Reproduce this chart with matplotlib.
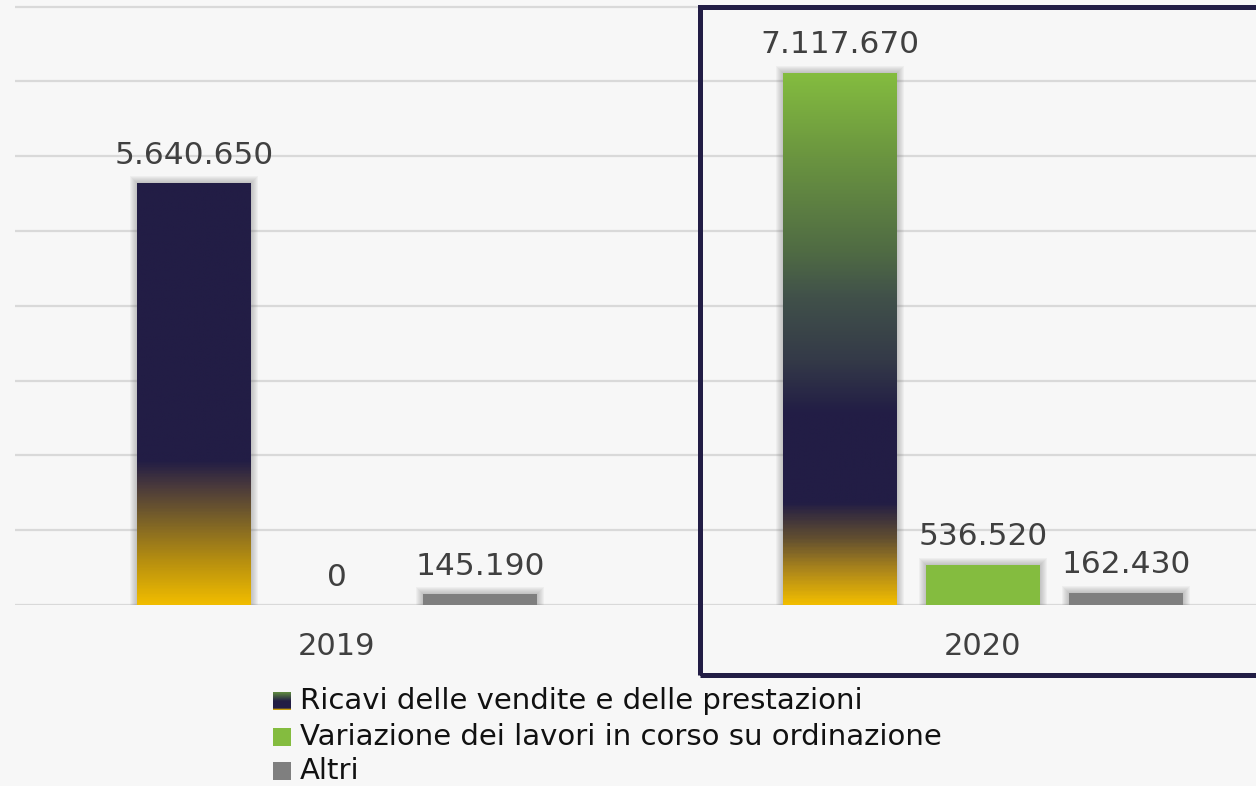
import matplotlib
matplotlib.use("Agg")
import matplotlib.pyplot as plt
import numpy as np
from matplotlib.colors import LinearSegmentedColormap
from matplotlib.patches import Rectangle

# ---------------- data ----------------
years = ["2019", "2020"]
series_names = ["Ricavi delle vendite e delle prestazioni",
                "Variazione dei lavori in corso su ordinazione",
                "Altri"]
ricavi = [5640650, 7117670]
variazione = [0, 536520]
altri = [145190, 162430]

# ---------------- style ----------------
BG = "#f7f7f7"
NAVY = "#221d45"
GREEN = "#84bc3f"
GRAY = "#7f7f7f"
YELLOW = "#f0bc00"
GRID = "#d9d9d9"
FONT = "DejaVu Sans"

grad_2019 = [(0.0, YELLOW), (0.10, "#b8900f"), (0.20, "#7a6128"), (0.28, "#4a3a3c"),
             (0.34, NAVY), (1.0, NAVY)]
grad_2020 = [(0.0, YELLOW), (0.06, "#b0891a"), (0.12, "#65512f"), (0.19, NAVY),
             (0.36, NAVY), (0.46, "#343a48"), (0.58, "#41514a"), (0.66, "#4f6a44"),
             (0.84, "#6a9440"), (1.0, GREEN)]
ricavi_grads = [grad_2019, grad_2020]

W, H = 1256, 786
fig = plt.figure(figsize=(W / 100, H / 100), dpi=100, facecolor=BG)
base_px = 605
px_per_unit = 74.8e-6  # pixels per value unit
ax = fig.add_axes([15 / W, (H - base_px) / H, 1 - 15 / W, base_px / H])
ax.set_facecolor(BG)
ymax = base_px / px_per_unit
group_px = [337, 983]
spacing_px = group_px[1] - group_px[0]

dx = 1 / spacing_px          # data units per pixel (x)
dy = 1 / px_per_unit         # data units per pixel (y)
bar_w = 114 * dx
offset = 143 * dx

ax.set_yticks(np.arange(0, 8.5e6, 1e6))
ax.yaxis.grid(True, color=GRID, lw=1.6)
ax.set_axisbelow(True)
ax.tick_params(axis="y", length=0, labelleft=False)
for s in ax.spines.values():
    s.set_visible(False)

x = np.arange(len(years))
ax.set_xticks(x)
ax.set_xticklabels(years, fontsize=22, color="#404040", family=FONT)
ax.tick_params(axis="x", length=0, pad=30)
for lbl in ax.get_xticklabels():
    lbl.set_verticalalignment("center")


def glow(xc, h):
    if h <= 0:
        return
    for k in range(1, 8):
        ax.add_patch(Rectangle((xc - bar_w / 2 - k * dx, -k * dy * 0.5),
                               bar_w + 2 * k * dx, h + k * dy * 1.5,
                               facecolor="#6a6a6a", edgecolor="none",
                               alpha=0.06, zorder=2))


def label(xc, v):
    ax.annotate(f"{v:,}".replace(",", "."), (xc, v), xytext=(0, 28 * 0.72),
                textcoords="offset points", ha="center", va="center",
                fontsize=22.5, color="#404040", family=FONT, zorder=6)


# Ricavi bars with gradient
for i in range(len(years)):
    xc = x[i] - offset
    glow(xc, ricavi[i])
    bars = ax.bar(xc, ricavi[i], width=bar_w, color=NAVY, zorder=3)
    patch = bars[0]
    cmap = LinearSegmentedColormap.from_list(f"g{i}", ricavi_grads[i])
    grad = np.linspace(0, 1, 400).reshape(-1, 1)
    im = ax.imshow(grad, cmap=cmap, origin="lower", aspect="auto",
                   extent=[xc - bar_w / 2, xc + bar_w / 2, 0, ricavi[i]],
                   zorder=4, interpolation="bilinear")
    im.set_clip_path(patch)
    label(xc, ricavi[i])

# Variazione bars
for i in range(len(years)):
    xc = x[i]
    glow(xc, variazione[i])
    ax.bar(xc, variazione[i], width=bar_w, color=GREEN, zorder=3)
    label(xc, variazione[i])

# Altri bars
for i in range(len(years)):
    xc = x[i] + offset
    glow(xc, altri[i])
    ax.bar(xc, altri[i], width=bar_w, color=GRAY, zorder=3)
    label(xc, altri[i])

ax.set_xlim((15 - group_px[0]) / spacing_px, (W - group_px[0]) / spacing_px)
ax.set_ylim(0, ymax)

# highlight frame around 2020
fig.add_artist(Rectangle((700 / W, (H - 674.5) / H), 700 / W, (674.5 - 6.5) / H,
                         transform=fig.transFigure, facecolor="none",
                         edgecolor=NAVY, lw=3.6, zorder=10))

# legend (manual)
leg_y = [701, 737, 771]
sq = 18
for j, name in enumerate(series_names):
    yc = leg_y[j]
    if j == 0:
        lax = fig.add_axes([273 / W, (H - yc - sq / 2) / H, sq / W, sq / H])
        lax.axis("off")
        cm = LinearSegmentedColormap.from_list("leg", [(0, YELLOW), (0.1, NAVY), (0.5, NAVY), (1, "#5f8a40")])
        lax.imshow(np.linspace(0, 1, 50).reshape(-1, 1), cmap=cm, origin="lower",
                   aspect="auto", extent=[0, 1, 0, 1])
    else:
        fig.add_artist(Rectangle((273 / W, (H - yc - sq / 2) / H), sq / W, sq / H,
                                 transform=fig.transFigure,
                                 facecolor=[None, GREEN, GRAY][j], edgecolor="none"))
    fig.text(300 / W, (H - yc) / H, name, ha="left", va="center",
             fontsize=21, color="#111111", family=FONT)

fig.savefig("out.png", dpi=100, facecolor=BG)
